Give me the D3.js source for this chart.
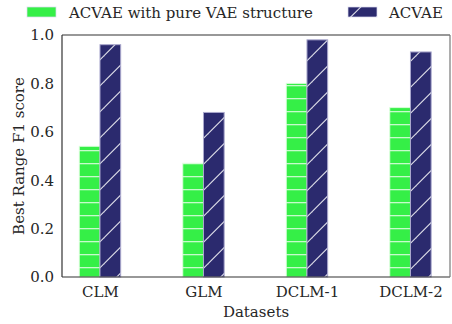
<!DOCTYPE html>
<html>
<head>
<meta charset="utf-8">
<script src="https://cdn.jsdelivr.net/npm/d3@7"></script>
<style>
  html, body { margin: 0; padding: 0; background: #fff; }
  svg { display: block; }
  text { font-family: "DejaVu Serif", serif; fill: #262626; }
</style>
</head>
<body>
<svg id="chart" width="452" height="324"></svg>
<script>
// ---- data ----
const categories = ["CLM", "GLM", "DCLM-1", "DCLM-2"];
const seriesNames = ["ACVAE with pure VAE structure", "ACVAE"];
const pureVAE = [0.54, 0.47, 0.80, 0.70];
const acvae = [0.96, 0.68, 0.98, 0.93];
const yTicks = [0.0, 0.2, 0.4, 0.6, 0.8, 1.0];

// ---- layout ----
const W = 452, H = 324;
const plot = { left: 62, right: 450, top: 35, bottom: 277 };
const greenColor = "#35ef47";
const navyColor = "#2b2a6e";
const barW = 0.2;

const svg = d3.select("#chart");

const x = d3.scaleLinear().domain([-0.367, 3.382]).range([plot.left, plot.right]);
const y = d3.scaleLinear().domain([0, 1]).range([plot.bottom, plot.top]);

// ---- hatch patterns (anchored in figure space) ----
const defs = svg.append("defs");
const hp = defs.append("pattern").attr("id", "hatchH")
  .attr("patternUnits", "userSpaceOnUse").attr("width", 26).attr("height", 13);
hp.append("rect").attr("width", 26).attr("height", 13).attr("fill", greenColor);
hp.append("line").attr("x1", 0).attr("x2", 26).attr("y1", 7.7).attr("y2", 7.7)
  .attr("stroke", "#ffffff").attr("stroke-opacity", 0.85).attr("stroke-width", 1.1);

const dp = defs.append("pattern").attr("id", "hatchD")
  .attr("patternUnits", "userSpaceOnUse").attr("width", 26).attr("height", 26);
dp.append("rect").attr("width", 26).attr("height", 26).attr("fill", navyColor);
[-22.3, 3.7, 29.7, 55.7].forEach(c => {
  dp.append("line").attr("x1", -10).attr("y1", c + 10).attr("x2", c + 10).attr("y2", -10)
    .attr("stroke", "#ffffff").attr("stroke-opacity", 0.85).attr("stroke-width", 1.1);
});

// ---- bars ----
const g = svg.append("g");
const series = [
  { name: seriesNames[0], values: pureVAE, fill: "url(#hatchH)", edge: "rgba(220,255,220,0.9)", off: -barW },
  { name: seriesNames[1], values: acvae, fill: "url(#hatchD)", edge: "rgba(170,168,205,1)", off: 0 }
];
series.forEach(s => {
  g.selectAll(null).data(s.values).enter().append("rect")
    .attr("x", (d, i) => x(i + s.off))
    .attr("width", (d, i) => x(i + s.off + barW) - x(i + s.off))
    .attr("y", d => y(d))
    .attr("height", d => y(0) - y(d))
    .attr("fill", s.fill)
    .attr("stroke", s.edge)
    .attr("stroke-width", 1);
});

// ---- frame ----
svg.append("line").attr("x1", plot.left).attr("x2", plot.right).attr("y1", plot.top).attr("y2", plot.top)
  .attr("stroke", "#333").attr("stroke-width", 1.2);
svg.append("line").attr("x1", plot.left).attr("x2", plot.right).attr("y1", plot.bottom).attr("y2", plot.bottom)
  .attr("stroke", "#333").attr("stroke-width", 1.2);
svg.append("line").attr("x1", plot.left).attr("x2", plot.left).attr("y1", plot.top).attr("y2", plot.bottom)
  .attr("stroke", "#333").attr("stroke-width", 1.2);
svg.append("line").attr("x1", plot.right).attr("x2", plot.right).attr("y1", plot.top).attr("y2", plot.bottom)
  .attr("stroke", "#777").attr("stroke-width", 1.2);

// ---- axes ----
const yAxis = d3.axisLeft(y).tickValues(yTicks).tickFormat(d3.format(".1f")).tickSize(0).tickPadding(8);
const ya = svg.append("g").attr("transform", `translate(${plot.left},0)`).call(yAxis);
ya.select(".domain").remove();
ya.selectAll("text").style("font-family", "DejaVu Serif").style("font-size", "15px").attr("fill", "#262626");

const xAxis = d3.axisBottom(x).tickValues(d3.range(categories.length)).tickFormat(i => categories[i]).tickSize(0).tickPadding(9);
const xa = svg.append("g").attr("transform", `translate(0,${plot.bottom})`).call(xAxis);
xa.select(".domain").remove();
xa.selectAll("text").style("font-family", "DejaVu Serif").style("font-size", "15px").attr("fill", "#262626");

// ---- axis labels ----
svg.append("text").attr("x", (plot.left + plot.right) / 2).attr("y", 317)
  .attr("text-anchor", "middle").style("font-size", "15px").text("Datasets");
svg.append("text").attr("transform", `translate(24,${(plot.top + plot.bottom) / 2}) rotate(-90)`)
  .attr("text-anchor", "middle").style("font-size", "15px").text("Best Range F1 score");

// ---- legend ----
const legend = [
  { name: seriesNames[0], fill: greenColor, px: 27, tx: 69 },
  { name: seriesNames[1], fill: navyColor, px: 348, tx: 389 }
];
legend.forEach((l, k) => {
  svg.append("rect").attr("x", l.px).attr("y", 7).attr("width", 29).attr("height", 10)
    .attr("fill", k === 0 ? greenColor : "url(#hatchD)").attr("stroke", "rgba(220,220,240,0.9)").attr("stroke-width", 0.8);
  svg.append("text").attr("x", l.tx).attr("y", 18).style("font-size", "15px").text(l.name);
});
</script>
</body>
</html>
